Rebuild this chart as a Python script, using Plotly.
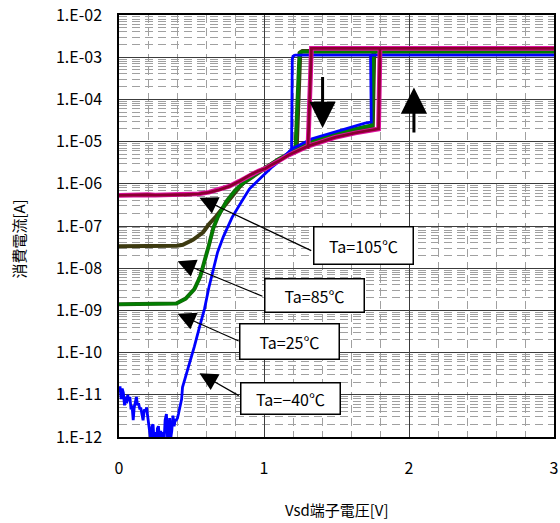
import plotly.graph_objects as go

# ---------------- measured data (Vsd [V], current [A]) ----------------
# Ta = -40 degC : noise floor, rising edge, hysteresis loop
v_m40 = [0.000, 0.007, 0.015, 0.022, 0.030, 0.038, 0.045, 0.053, 0.060, 0.068,
         0.075, 0.083, 0.090, 0.098, 0.105, 0.113, 0.120, 0.128, 0.135, 0.144,
         0.150, 0.158, 0.166, 0.175, 0.183, 0.190, 0.198, 0.205, 0.212, 0.220,
         0.228, 0.235, 0.243, 0.250, 0.258, 0.265, 0.272, 0.280, 0.288, 0.295,
         0.303, 0.310, 0.318, 0.327, 0.335, 0.342, 0.349, 0.356, 0.364, 0.372,
         0.380, 0.387, 0.395, 0.403, 0.410, 0.418, 0.425, 0.432, 0.438,
         0.486, 0.520, 0.555, 0.590, 0.620, 0.650, 0.680, 0.720, 0.780, 0.850,
         0.900, 0.950, 1.000, 1.050, 1.100, 1.150, 1.194, 1.330, 1.514, 1.697,
         1.740, 1.735, 1.750, 3.000, 1.215, 1.200, 1.195, 1.190]
i_m40 = [1.12e-11, 1.58e-11, 7.9e-12, 1.41e-11, 1.12e-11, 5.6e-12, 8.9e-12, 6.3e-12, 1.0e-11, 7.1e-12,
         8.9e-12, 4.5e-12, 5.6e-12, 2.5e-12, 5.0e-12, 7.9e-12, 8.9e-12, 5.6e-12, 6.3e-12, 4.5e-12,
         5.0e-12, 3.5e-12, 2.5e-12, 4.5e-12, 4.0e-12, 5.0e-12, 2.8e-12, 1.6e-12, 1.4e-12, 7.9e-13,
         1.8e-12, 2.0e-12, 7.1e-13, 1.3e-12, 6.3e-13, 1.6e-12, 1.8e-12, 7.9e-13, 1.4e-12, 5.6e-13,
         1.3e-12, 7.1e-13, 2.5e-12, 3.5e-12, 8.9e-13, 5.0e-13, 2.8e-12, 8.9e-13, 1.4e-12, 3.2e-12,
         1.8e-12, 2.5e-12, 2.5e-12, 2.8e-12, 3.5e-12, 5.0e-12, 5.6e-12, 7.9e-12, 1.5e-11,
         5.4e-11, 1.4e-10, 4.0e-10, 1.1e-9, 3.5e-9, 1.0e-8, 2.4e-8, 5.6e-8, 1.6e-7, 4.0e-7,
         7.6e-7, 1.12e-6, 1.66e-6, 2.4e-6, 3.3e-6, 4.8e-6, 6.8e-6, 1.17e-5, 1.8e-5, 2.75e-5,
         2.9e-5, 1.05e-3, 1.12e-3, 1.12e-3, 1.12e-3, 1.05e-3, 9.0e-4, 6.8e-6]

# Ta = 25 degC
v_25 = [0.000, 0.100, 0.200, 0.300, 0.395, 0.460, 0.520, 0.560, 0.590, 0.620,
        0.650, 0.680, 0.740, 0.800, 0.850, 0.900, 0.950, 1.000, 1.050, 1.100,
        1.217, 1.330, 1.510, 1.700, 1.745, 1.755, 3.000, 1.260, 1.245, 1.217]
i_25 = [1.40e-9, 1.40e-9, 1.40e-9, 1.45e-9, 1.45e-9, 1.9e-9, 3.2e-9, 6.3e-9, 1.4e-8, 3.5e-8,
        8.9e-8, 1.6e-7, 3.8e-7, 6.9e-7, 1.0e-6, 1.3e-6, 1.8e-6, 2.3e-6, 3.0e-6, 3.8e-6,
        6.3e-6, 1.0e-5, 1.6e-5, 2.3e-5, 2.4e-5, 1.35e-3, 1.35e-3, 1.35e-3, 1.25e-3, 6.3e-6]

# Ta = 85 degC
v_85 = [0.000, 0.100, 0.200, 0.300, 0.400, 0.440, 0.510, 0.580, 0.620, 0.670,
        0.720, 0.760, 0.830, 0.875, 0.930, 1.000, 1.050, 1.100, 1.225, 1.330,
        1.510, 1.700, 1.750, 1.760, 3.000, 1.265, 1.250, 1.225]
i_85 = [3.3e-8, 3.3e-8, 3.4e-8, 3.3e-8, 3.4e-8, 3.6e-8, 4.7e-8, 7.1e-8, 1.1e-7, 1.7e-7,
        2.8e-7, 4.2e-7, 8.3e-7, 1.2e-6, 1.66e-6, 2.3e-6, 2.95e-6, 3.7e-6, 6.0e-6, 9.3e-6,
        1.48e-5, 2.1e-5, 2.2e-5, 1.4e-3, 1.4e-3, 1.4e-3, 1.3e-3, 6.0e-6]

# Ta = 105 degC
v_105 = [0.00, 0.05, 0.10, 0.15, 0.20, 0.25, 0.30, 0.35, 0.40, 0.45,
         0.50, 0.55, 0.62, 0.69, 0.76, 0.83, 0.90, 0.96, 1.01, 1.05,
         1.10, 1.17, 1.308, 1.49, 1.63, 1.79, 1.80, 3.00, 1.327, 1.303]
i_105 = [5.3e-7, 5.4e-7, 5.5e-7, 5.4e-7, 5.5e-7, 5.4e-7, 5.5e-7, 5.4e-7, 5.5e-7, 5.5e-7,
         5.6e-7, 5.8e-7, 6.3e-7, 7.2e-7, 8.7e-7, 1.15e-6, 1.6e-6, 2.0e-6, 2.3e-6, 2.8e-6,
         3.4e-6, 4.8e-6, 7.9e-6, 1.26e-5, 1.6e-5, 2.0e-5, 1.62e-3, 1.62e-3, 1.62e-3, 6.8e-6]

x_ticks = [0, 1, 2, 3]
x_tick_text = ["0", "1", "2", "3"]
y_ticks = [1e-12, 1e-11, 1e-10, 1e-9, 1e-8, 1e-7, 1e-6, 1e-5, 1e-4, 1e-3, 1e-2]
y_tick_text = ["1.E-12", "1.E-11", "1.E-10", "1.E-09", "1.E-08", "1.E-07",
               "1.E-06", "1.E-05", "1.E-04", "1.E-03", "1.E-02"]

labels = ["Ta=105℃", "Ta=85℃", "Ta=25℃", "Ta=−40℃"]

FONT = "Noto Sans CJK JP"

fig = go.Figure()

def add_line(x, y, color, width):
    fig.add_trace(go.Scatter(x=x, y=y, mode="lines",
                             line=dict(color=color, width=width),
                             hoverinfo="skip", showlegend=False))

add_line(v_85, i_85, "#3d3a10", 4)
add_line(v_25, i_25, "#1f5f10", 4)
add_line(v_25, i_25, "#008000", 2.6)
add_line(v_m40, i_m40, "#0000ff", 2.8)
add_line(v_105, i_105, "#e010a0", 4.8)
add_line(v_105, i_105, "#8a0030", 2.8)

# ---------------- axes ----------------
fig.update_xaxes(
    range=[0, 3], tickvals=x_ticks, ticktext=x_tick_text,
    showgrid=True, gridcolor="#3c3c3c", gridwidth=1,
    zeroline=False, showline=True, mirror=True, linecolor="black", linewidth=1.5,
    ticks="", ticklabelstandoff=16, ticklabeloverflow="allow",
    tickfont=dict(family=FONT, size=16, color="black"),
    minor=dict(dtick=0.2, showgrid=True, gridcolor="#a0a0a0",
               griddash="8px,5px", gridwidth=1, ticks=""),
)
fig.update_yaxes(
    type="log", range=[-12, -2], tickvals=y_ticks, ticktext=y_tick_text,
    showgrid=True, gridcolor="#3c3c3c", gridwidth=1,
    zeroline=False, showline=True, mirror=True, linecolor="black", linewidth=1.5,
    ticks="", ticklabelstandoff=12, ticklabeloverflow="allow",
    tickfont=dict(family=FONT, size=16, color="black"),
    minor=dict(dtick="D1", showgrid=True, gridcolor="#a0a0a0",
               griddash="8px,5px", gridwidth=1, ticks=""),
)

annotations = []

# temperature labels in framed boxes, with arrows pointing to each curve
box_pos = [(1.685, -7.46), (1.346, -8.635), (1.178, -9.74), (1.182, -11.08)]
box_h = [34, 30, 32, 28]
arrow_tip = [(0.555, -6.33), (0.404, -7.835), (0.404, -9.08), (0.555, -10.49)]
arrow_tail = [(1.336, -7.60), (1.0, -8.68), (0.836, -9.74), (0.836, -11.04)]

for (tx, ty), (ax, ay) in zip(arrow_tip, arrow_tail):
    annotations.append(dict(
        x=tx, y=ty, ax=ax, ay=ay, xref="x", yref="y", axref="x", ayref="y",
        text="", showarrow=True, arrowhead=2, arrowsize=3.0, arrowwidth=1.2,
        arrowcolor="black", standoff=0,
    ))

for (bx, by), txt, h in zip(box_pos, labels, box_h):
    annotations.append(dict(
        x=bx, y=by, xref="x", yref="y", text=txt, showarrow=False,
        font=dict(family=FONT, size=16, color="black"),
        bgcolor="white", bordercolor="black", borderwidth=1.5, borderpad=1,
        width=96, height=h, xanchor="center", yanchor="middle",
    ))

# sweep direction arrows inside the hysteresis loop
annotations.append(dict(
    x=1.404, y=-4.68, ax=1.404, ay=-3.435, xref="x", yref="y", axref="x", ayref="y",
    text="", showarrow=True, arrowhead=2, arrowsize=1.75, arrowwidth=3,
    arrowcolor="black", standoff=0,
))
annotations.append(dict(
    x=2.034, y=-3.72, ax=2.034, ay=-4.82, xref="x", yref="y", axref="x", ayref="y",
    text="", showarrow=True, arrowhead=2, arrowsize=1.75, arrowwidth=3,
    arrowcolor="black", standoff=0,
))

# axis titles
annotations.append(dict(
    x=0.5, y=-0.172, xref="paper", yref="paper", text="Vsd端子電圧[V]",
    showarrow=False, xanchor="center", yanchor="middle",
    font=dict(family=FONT, size=15, color="black"),
))
annotations.append(dict(
    x=-0.230, y=0.47, xref="paper", yref="paper", text="消費電流[A]",
    showarrow=False, xanchor="center", yanchor="middle", textangle=-90,
    font=dict(family=FONT, size=15, color="black"),
))

fig.update_layout(
    width=560, height=523, autosize=False,
    margin=dict(l=119, r=2, t=12, b=86),
    paper_bgcolor="white", plot_bgcolor="white",
    showlegend=False,
    font=dict(family=FONT, size=15, color="black"),
    annotations=annotations,
)

fig.write_html("out.html")
